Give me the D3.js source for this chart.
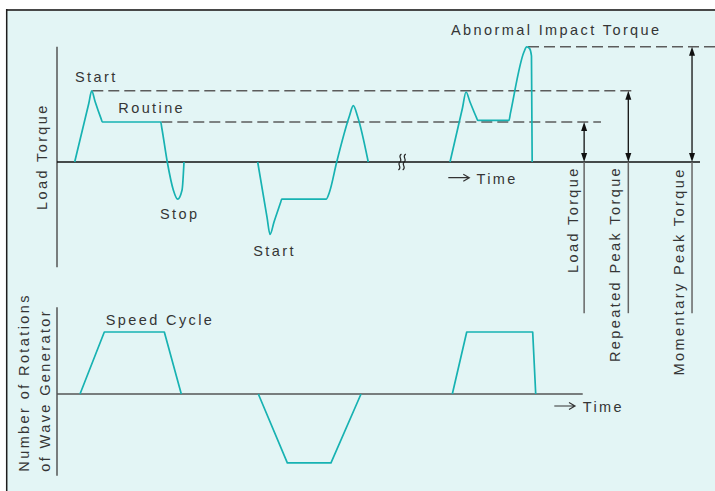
<!DOCTYPE html>
<html><head><meta charset="utf-8">
<script src="https://cdn.jsdelivr.net/npm/d3@7"></script>
<style>
html,body{margin:0;padding:0;background:#fff;}
svg{display:block;}
text{font-family:"Liberation Sans",Arial,Helvetica,sans-serif;font-size:14.5px;fill:#353535;letter-spacing:2.4px;}
</style></head><body>
<svg id="c" width="715" height="491"></svg>
<script>
// ---- data: time in arbitrary units (0-100), torque in % of routine load torque ----
const loadCycle1 = [[2.75,0],[4.95,147],[5.40,178],[5.91,152],[6.84,109],[7.05,100],[16.13,100],[16.30,85],[17.15,0],[18.09,-70],[18.76,-93],[19.45,-70],[19.75,0]];
const loadCycle2 = [[31.21,0],[32.66,-138],[33.13,-181],[33.75,-150],[34.76,-102],[34.95,-93],[41.84,-93],[42.38,-75],[43.50,0],[45.48,115],[46.08,141],[46.75,114],[48.41,0]];
const loadCycle3 = [[61.12,0],[63.06,135],[63.61,175],[64.23,150],[65.24,111],[65.44,104],[70.29,104],[70.52,122],[72.62,275],[73.05,288],[73.48,284],[73.79,265],[73.90,0]];
// reference torque levels (% of routine)
const levelNames  = ["Load Torque", "Repeated Peak Torque", "Momentary Peak Torque"];
const levelValues = [100, 178, 288];
const levelStart  = [16.22, 5.49, 73.25];   // time where dashed guide begins
const levelEnd    = [84.6, 89.6, 105];      // time where dashed guide ends
const levelArrowT = [81.98, 88.85, 98.76];  // time of measuring arrow
// speed of wave generator (% of rated speed)
const speedRun1 = [[3.58,0],[7.36,100],[16.69,100],[19.33,0]];
const speedRun2 = [[31.31,0],[35.82,-111],[42.61,-111],[47.28,0]];
const speedRun3 = [[61.48,0],[63.72,100],[73.98,100],[74.45,0]];

const svg = d3.select("#c");
const W = 715, H = 491;
const teal = "#17b2b2";

// frame / background
svg.append("rect").attr("x",6).attr("y",10).attr("width",W-6).attr("height",H-10).attr("fill","#e3f5f5");
svg.append("line").attr("x1",6).attr("x2",W).attr("y1",10).attr("y2",10).attr("stroke","#484848").attr("stroke-width",2);
svg.append("line").attr("x1",6.7).attr("x2",6.7).attr("y1",9).attr("y2",H).attr("stroke","#1e1e1e").attr("stroke-width",1.5);

// scales
const x = d3.scaleLinear().domain([0,100]).range([57,700]);
const yL = d3.scaleLinear().domain([0,100]).range([162,122]);
const yS = d3.scaleLinear().domain([0,100]).range([394,332]);

// axes (plain lines via scales)
svg.append("line").attr("x1",x(0)).attr("x2",x(0)).attr("y1",yL(288)).attr("y2",yL(-263)).attr("stroke","#555").attr("stroke-width",1.5);
svg.append("line").attr("x1",x(0)).attr("x2",x(100)).attr("y1",yL(0)).attr("y2",yL(0)).attr("stroke","#111").attr("stroke-width",1.3);
svg.append("line").attr("x1",x(0)).attr("x2",x(0)).attr("y1",yS(140)).attr("y2",yS(-132)).attr("stroke","#555").attr("stroke-width",1.5);
svg.append("line").attr("x1",x(0)).attr("x2",x(81.76)).attr("y1",yS(0)).attr("y2",yS(0)).attr("stroke","#555").attr("stroke-width",1.5);

// dashed guide lines
levelValues.forEach((v,i)=>{
  svg.append("line").attr("x1",x(levelStart[i])).attr("x2",x(levelEnd[i]))
    .attr("y1",yL(v)).attr("y2",yL(v))
    .attr("stroke","#5c5c5c").attr("stroke-width",1.6).attr("stroke-dasharray","11,5");
});

// measuring arrows
levelValues.forEach((v,i)=>{
  const ax = x(levelArrowT[i]);
  const yTop = yL(v), yBot = yL(0);
  svg.append("line").attr("x1",ax).attr("x2",ax).attr("y1",yBot).attr("y2",yL(-378)).attr("stroke","#666").attr("stroke-width",1.5);
  svg.append("line").attr("x1",ax).attr("x2",ax).attr("y1",yTop+4).attr("y2",yBot-4).attr("stroke","#111").attr("stroke-width",1.3);
  svg.append("path").attr("d",`M${ax},${yTop} L${ax-3},${yTop+9} L${ax+3},${yTop+9} Z`).attr("fill","#111");
  svg.append("path").attr("d",`M${ax},${yBot} L${ax-3},${yBot-9} L${ax+3},${yBot-9} Z`).attr("fill","#111");
});

// break mark on the time axis
[x(53.33), x(54.0)].forEach(bx=>{
  svg.append("path").attr("d",`M${bx+1.5},${154} C${bx-3},${157} ${bx+3.5},${159} ${bx},${162} C${bx-3.5},${165} ${bx+3},${167} ${bx-1.5},${170}`)
    .attr("fill","none").attr("stroke","#222").attr("stroke-width",1.1);
});

// curves
const lineL = d3.line().x(d=>x(d[0])).y(d=>yL(d[1])).curve(d3.curveMonotoneX);
[loadCycle1, loadCycle2, loadCycle3].forEach(c=>{
  svg.append("path").attr("d",lineL(c)).attr("fill","none").attr("stroke",teal).attr("stroke-width",1.7).attr("stroke-linejoin","round");
});
const lineS = d3.line().x(d=>x(d[0])).y(d=>yS(d[1]));
[speedRun1, speedRun2, speedRun3].forEach(c=>{
  svg.append("path").attr("d",lineS(c)).attr("fill","none").attr("stroke",teal).attr("stroke-width",1.7).attr("stroke-linejoin","round");
});

// time arrows
function timeArrow(x1,x2,y){
  svg.append("path").attr("d",`M${x1},${y} L${x2},${y} M${x2-6},${y-3.5} L${x2},${y} L${x2-6},${y+3.5}`)
    .attr("fill","none").attr("stroke","#333").attr("stroke-width",1.2);
}
timeArrow(448.3,469.3,177.7);
timeArrow(554.3,575,406);

// labels
function label(t,px,py){ svg.append("text").attr("x",px).attr("y",py).text(t); }
label("Start",75,81.7);
label("Routine",118.3,113.3);
label("Stop",160,218.5);
label("Start",253.3,255.7);
label("Abnormal Impact Torque",451,35);
label("Time",476.5,184);
label("Speed Cycle",105.7,325);
label("Time",582.7,411.7);

function vlabel(t,px,py){ svg.append("text").attr("transform",`translate(${px},${py}) rotate(-90)`).text(t); }
vlabel("Load Torque",47.3,210);
vlabel("Number of Rotations",28.8,471.7);
vlabel("of Wave Generator",49.6,471.7);
const vBase = [578, 619.5, 683.6], vStart = [273, 362, 375.5];
levelNames.forEach((n,i)=> vlabel(n, vBase[i], vStart[i]));
</script>
</body></html>
